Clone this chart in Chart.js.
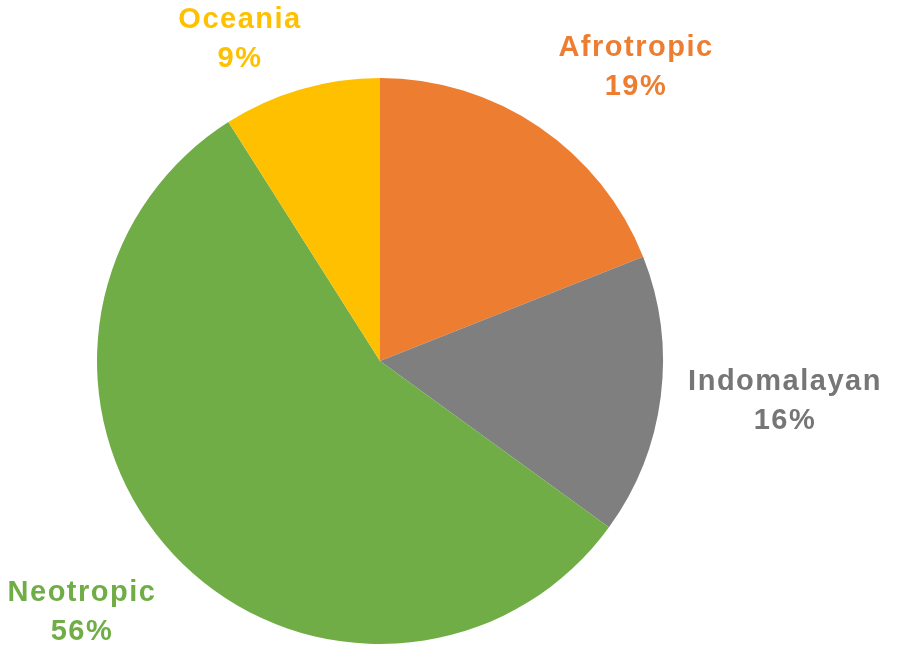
<!DOCTYPE html>
<html>
<head>
<meta charset="utf-8">
<script src="https://cdn.jsdelivr.net/npm/chart.js@4/dist/chart.umd.min.js"></script>
<style>
html,body{margin:0;padding:0;background:#fff;}
#wrap{width:897px;height:656px;position:relative;}
</style>
</head>
<body>
<div id="wrap"><canvas id="c" width="897" height="656"></canvas></div>
<script>
const categories = ["Afrotropic", "Indomalayan", "Neotropic", "Oceania"];
const percentages = [19, 16, 56, 9];
const sliceColors = ["#ED7D31", "#7F7F7F", "#70AD47", "#FFC000"];
const labelColors = ["#ED7D31", "#767676", "#70AD47", "#FFC000"];
// label offsets from pie centre (layout only)
const labelOffsets = [[256, -313], [405, 21], [-298, 232], [-140, -341]];

const labelPlugin = {
  id: 'sliceLabels',
  afterDatasetsDraw(chart) {
    const ctx = chart.ctx;
    const meta = chart.getDatasetMeta(0);
    const arc = meta.data[0];
    const cx = arc.x, cy = arc.y;
    ctx.save();
    ctx.font = 'bold 29px "Liberation Sans", Arial, sans-serif';
    ctx.letterSpacing = '1.5px';
    ctx.textAlign = 'center';
    ctx.textBaseline = 'middle';
    categories.forEach((name, i) => {
      const [dx, dy] = labelOffsets[i];
      ctx.fillStyle = labelColors[i];
      ctx.fillText(name, cx + dx, cy + dy);
      ctx.fillText(percentages[i] + '%', cx + dx, cy + dy + 39);
    });
    ctx.restore();
  }
};

new Chart(document.getElementById('c'), {
  type: 'pie',
  data: {
    labels: categories,
    datasets: [{
      data: percentages,
      backgroundColor: sliceColors,
      borderWidth: 0
    }]
  },
  options: {
    responsive: false,
    animation: false,
    rotation: 0,
    layout: { padding: { top: 78, bottom: 12, left: 0, right: 137 } },
    plugins: {
      legend: { display: false },
      tooltip: { enabled: false }
    }
  },
  plugins: [labelPlugin]
});
</script>
</body>
</html>
